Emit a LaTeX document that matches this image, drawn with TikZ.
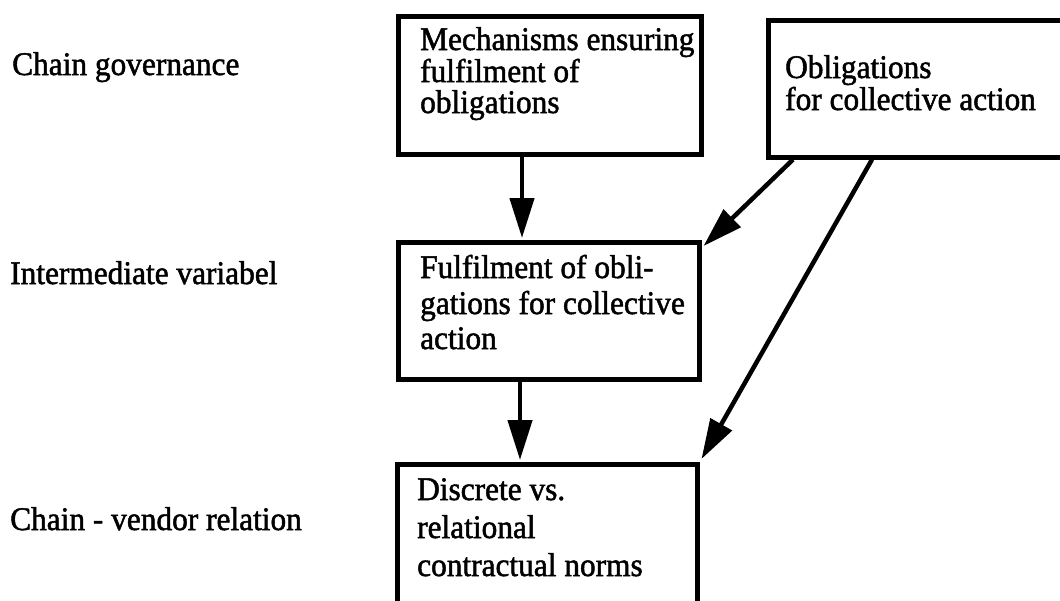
\documentclass[tikz,border=0pt]{standalone}
\usepackage{fontspec}
\setmainfont{Liberation Serif}[FakeStretch=0.95,FakeBold=1.5]
\usetikzlibrary{arrows.meta,calc}
\begin{document}
\begin{tikzpicture}[x=1pt,y=-1pt,
  box/.style={draw, line width=4.5pt, rectangle, inner sep=0pt, anchor=north west},
  txt/.style={anchor=base west, inner sep=0pt, font=\fontsize{33}{33}\selectfont},
  arr/.style={line width=4.5pt, -{Triangle[length=40pt,width=24pt]}}]
\useasboundingbox (0,0) rectangle (1060,600);
\clip (0,0) rectangle (1060,600);
% row labels
\node[txt] (l1) at (12,75) {Chain governance};
\node[txt] (l2) at (10,284) {Intermediate variabel};
\node[txt] (l3) at (10,530) {Chain - vendor relation};
% boxes
\node[box, minimum width=303pt, minimum height=138pt] (m) at (396,14) {};
\node[box, minimum width=320pt, minimum height=137pt] (o) at (766,18) {};
\node[box, minimum width=301pt, minimum height=137pt] (f) at (396,240) {};
\node[box, minimum width=300pt, minimum height=170pt] (d) at (395,462) {};
% box texts
\node[txt] (m1) at (420,50) {Mechanisms ensuring};
\node[txt] (m2) at (420,82) {fulfilment of};
\node[txt] (m3) at (420,113) {obligations};
\node[txt] (o1) at (785,78) {Obligations};
\node[txt] (o2) at (785,110) {for collective action};
\node[txt] (f1) at (420,278) {Fulfilment of obli-};
\node[txt] (f2) at (420,314) {gations for collective};
\node[txt] (f3) at (420,349) {action};
\node[txt] (d1) at (417,500) {Discrete vs.};
\node[txt] (d2) at (417,538) {relational};
\node[txt] (d3) at (417,576) {contractual norms};
% connector columns
\coordinate (c1) at (522,0);
\coordinate (c2) at (793,0);
\coordinate (c3) at (872,0);
\coordinate (c4) at (520,0);
% arrows
\draw[arr, shorten >=2pt] (m.south -| c1) -- (f.north -| c1);
\draw[arr] (o.south -| c2) -- ($(f.north east)+(2,6)$);
\draw[arr] (o.south -| c3) -- ($(d.north east)+(2,-3)$);
\draw[arr, shorten >=2pt] (f.south -| c4) -- (d.north -| c4);
\end{tikzpicture}
\end{document}
